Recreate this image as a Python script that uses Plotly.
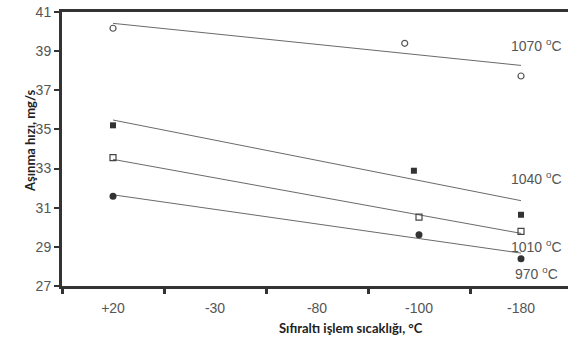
import plotly.graph_objects as go

categories = ["+20", "-30", "-80", "-100", "-180"]
series_names = ["1070 <sup>o</sup>C", "1040 <sup>o</sup>C", "1010 <sup>o</sup>C", "970 <sup>o</sup>C"]

# measured points (x = category index, small offsets as in original)
x_1070 = [0, 2.86, 4]
y_1070 = [40.17, 39.40, 37.73]
x_1040 = [0, 2.95, 4]
y_1040 = [35.21, 32.89, 30.64]
x_1010 = [0, 3, 4]
y_1010 = [33.56, 30.52, 29.79]
x_970 = [0, 3, 4]
y_970 = [31.58, 29.62, 28.39]

# trend line end values (at +20 and -180)
trend_x = [0, 4]
trend_1070 = [40.42, 38.27]
trend_1040 = [35.48, 31.36]
trend_1010 = [33.47, 29.69]
trend_970 = [31.66, 28.68]

label_y = [39.31, 32.52, 29.06, 27.66]

W, H = 568, 346
L, R, T, B = 62, 0, 12, 60
cat_px = 102
xmax = -0.5 + (W - L - R) / cat_px

fig = go.Figure()
line_col = "#6a6a6a"
for ty in [trend_1070, trend_1040, trend_1010, trend_970]:
    fig.add_trace(go.Scatter(x=trend_x, y=ty, mode="lines",
                             line=dict(color=line_col, width=1), showlegend=False, hoverinfo="skip"))

pts = [
    (x_1070, y_1070, dict(symbol="circle-open", size=6, color="#555", line=dict(width=1.2, color="#555"))),
    (x_1040, y_1040, dict(symbol="square", size=6, color="#333")),
    (x_1010, y_1010, dict(symbol="square-open", size=6, color="#444", line=dict(width=1.2, color="#444"))),
    (x_970, y_970, dict(symbol="circle", size=7, color="#333")),
]
for xs, ys, mk in pts:
    fig.add_trace(go.Scatter(x=xs, y=ys, mode="markers", marker=mk, showlegend=False))

label_x = -0.5 + (536 - L) / cat_px
for name, ly in zip(series_names, label_y):
    fig.add_annotation(x=label_x, y=ly, text=name, showarrow=False,
                       font=dict(family="Liberation Sans, Arial", size=14, color="#555"))

px2x = lambda p: (p - L) / (W - L - R)
py2y = lambda p: (H - B - p) / (H - T - B)

fig.add_annotation(x=px2x(351), y=py2y(328), xref="paper", yref="paper", yanchor="middle",
                   text="<b>Sıfıraltı işlem sıcaklığı, °C</b>", showarrow=False,
                   font=dict(family="Lato", size=13, color="#222"))
fig.add_annotation(x=px2x(20), y=py2y(141), xref="paper", yref="paper", text="<b>Aşınma hızı, mg/s</b>",
                   textangle=-90, showarrow=False,
                   font=dict(family="Lato", size=13, color="#222"))

fig.update_layout(
    width=W, height=H, margin=dict(l=L, r=R, t=T, b=B),
    paper_bgcolor="white", plot_bgcolor="white",
    xaxis=dict(range=[-0.5, xmax], tickmode="array", tickvals=list(range(len(categories))),
               ticktext=categories, ticks="", showgrid=False, zeroline=False,
               showline=True, linecolor="#333", linewidth=3, mirror=True, ticklabelstandoff=7,
               tickfont=dict(family="Liberation Sans, Arial", size=14, color="#555"),
               minor=dict(tickmode="array", tickvals=[-0.5, 0.5, 1.5, 2.5, 3.5], ticks="outside",
                          ticklen=5, tickwidth=3, tickcolor="#333", showgrid=False)),
    yaxis=dict(range=[27, 41], tickmode="array", tickvals=list(range(27, 42, 2)), ticks="outside",
               ticklen=5, tickwidth=2, tickcolor="#333", showgrid=False, zeroline=False,
               showline=True, linecolor="#333", linewidth=3,
               tickfont=dict(family="Liberation Sans, Arial", size=14, color="#555")),
)

fig.write_html("out.html")
